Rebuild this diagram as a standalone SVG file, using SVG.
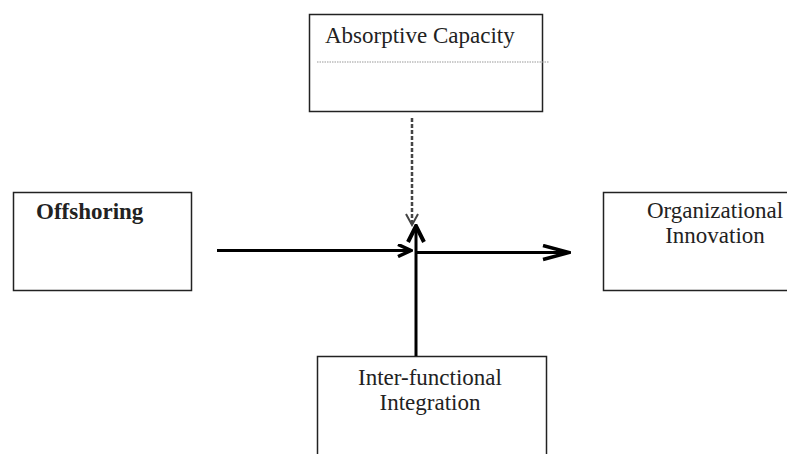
<svg xmlns="http://www.w3.org/2000/svg" width="787" height="454" viewBox="0 0 787 454">
<style>
.box{fill:#fff;stroke:#222;stroke-width:1.5}
.t{font-family:"Liberation Serif","Times New Roman",serif;font-size:23px;fill:#222}
.tb{font-weight:bold}
.c{text-anchor:middle}
.solid{stroke:#000;stroke-width:3;fill:none}
</style>
<defs>
<marker id="open" markerWidth="16" markerHeight="14" refX="14" refY="7" orient="auto" markerUnits="userSpaceOnUse">
<path d="M1,1 L14,7 L1,13" fill="none" stroke="#000" stroke-width="3.5"/>
</marker>
<marker id="openL" markerWidth="30" markerHeight="18" refX="28" refY="9" orient="auto" markerUnits="userSpaceOnUse">
<path d="M2,2 L28,9 L2,16" fill="none" stroke="#000" stroke-width="3.5"/>
</marker>
<marker id="up" markerWidth="20" markerHeight="20" refX="18" refY="10" orient="auto" markerUnits="userSpaceOnUse">
<path d="M2,2 L18,10 L2,18" fill="none" stroke="#000" stroke-width="4"/>
</marker>
<marker id="dash" markerWidth="14" markerHeight="14" refX="12" refY="7" orient="auto" markerUnits="userSpaceOnUse">
<path d="M1,1 L12,7 L1,13" fill="none" stroke="#444" stroke-width="2"/>
</marker>
</defs>
<g id="absorptive">
<rect class="box" x="309.5" y="14.5" width="233" height="97"/>
<text class="t" x="325" y="43">Absorptive Capacity</text>
<line x1="317" y1="62" x2="549" y2="62" stroke="#999" stroke-width="1.2" stroke-dasharray="1.5,1"/>
</g>
<g id="offshoring">
<rect class="box" x="13.5" y="192.5" width="178" height="98"/>
<text class="t tb" x="36" y="219">Offshoring</text>
</g>
<g id="organizational">
<rect class="box" x="603.5" y="192.5" width="190" height="98"/>
<text class="t c" x="715" y="218">Organizational</text>
<text class="t c" x="715" y="243">Innovation</text>
</g>
<g id="interfunctional">
<rect class="box" x="317.5" y="356.5" width="229" height="110"/>
<text class="t c" x="430" y="385">Inter-functional</text>
<text class="t c" x="430" y="410">Integration</text>
</g>
<g id="connectors">
<line x1="412" y1="118" x2="412" y2="225" stroke="#444" stroke-width="2.5" stroke-dasharray="4,2" marker-end="url(#dash)"/>
<line class="solid" x1="217" y1="250.5" x2="411" y2="250.5" marker-end="url(#open)"/>
<line class="solid" x1="415" y1="252.5" x2="569" y2="252.5" marker-end="url(#openL)"/>
<line class="solid" x1="416" y1="356" x2="416" y2="226" marker-end="url(#up)"/>
</g>
</svg>
